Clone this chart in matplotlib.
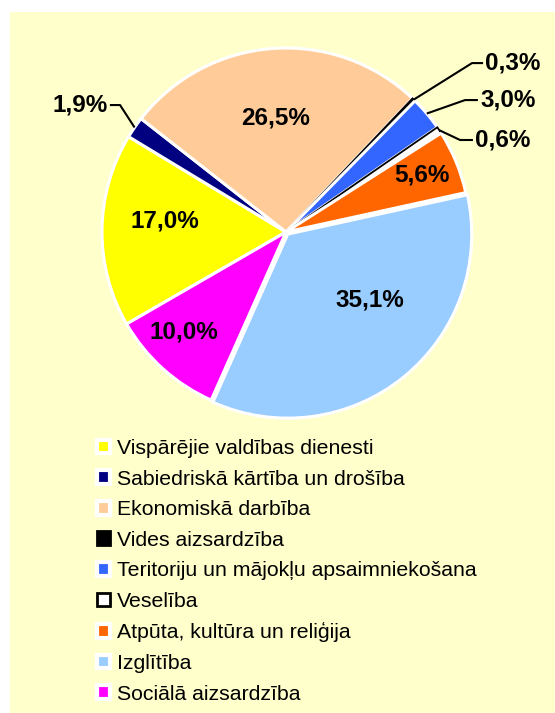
import numpy as np
import matplotlib
matplotlib.use("Agg")
import matplotlib.pyplot as plt
from matplotlib.patches import Patch, Rectangle

plt.rcParams['font.family'] = ['Liberation Sans', 'DejaVu Sans']

categories = [
    'Vispārējie valdības dienesti',
    'Sabiedriskā kārtība un drošība',
    'Ekonomiskā darbība',
    'Vides aizsardzība',
    'Teritoriju un mājokļu apsaimniekošana',
    'Veselība',
    'Atpūta, kultūra un reliģija',
    'Izglītība',
    'Sociālā aizsardzība',
]
shares = [17.0, 1.9, 26.5, 0.3, 3.0, 0.6, 5.6, 35.1, 10.0]
labels = ['17,0%', '1,9%', '26,5%', '0,3%', '3,0%', '0,6%', '5,6%', '35,1%', '10,0%']

colors = ['#FFFF00', '#000080', '#FFCC99', '#000000', '#3366FF',
          '#FFFFFF', '#FF6600', '#99CCFF', '#FF00FF']
edges = ['white', 'white', 'white', 'black', 'white',
         'black', 'white', 'white', 'white']
explode = [0, 0, 0, 0, 0, 0, 0, 0.015, 0]

# label layout: inside labels (radius, angle offset from wedge middle)
inside = {0: (0.66, -4.6), 2: (0.62, 0.8), 6: (0.80, 0.3), 7: (0.57, 12.0), 8: (0.78, -3.6)}
# outside labels (elbow x, elbow y, end of horizontal leader x)
outside = {1: (-0.902, 0.690, -0.957),
           3: (1.011, 0.918, 1.071),
           4: (0.973, 0.717, 1.043),
           5: (0.946, 0.500, 1.016)}

W, H = 555, 713
fig = plt.figure(figsize=(W / 100, H / 100), dpi=100)
fig.patch.set_facecolor('white')
fig.patches.append(Rectangle((10 / W, 0), 1, 1 - 12 / H, transform=fig.transFigure,
                             facecolor='#FFFFCC', edgecolor='none', zorder=-5))

cx, cy, R = 286, 232, 184
lim = 1.25
size = 2 * lim * R
ax = fig.add_axes([(cx - size / 2) / W, (H - cy - size / 2) / H, size / W, size / H])
ax.set_facecolor('none')

wedges, _ = ax.pie(shares, colors=colors, explode=explode, startangle=210,
                   counterclock=False, radius=1.0,
                   wedgeprops=dict(linewidth=2.2, edgecolor='white'))
for w, ec in zip(wedges, edges):
    if ec == 'black':
        w.set_edgecolor('black')
        w.set_linewidth(1.3)

for i, w in enumerate(wedges):
    mid = np.deg2rad((w.theta1 + w.theta2) / 2)
    if i in inside:
        r, off = inside[i]
        a = mid + np.deg2rad(off)
        ox, oy = w.center
        ax.text(ox + r * np.cos(a), oy + r * np.sin(a), labels[i], ha='center', va='center',
                fontsize=17.5, fontweight='bold')
    else:
        ex, ey, endx = outside[i]
        side = 1 if ex > 0 else -1
        px, py = np.cos(mid), np.sin(mid)
        ax.plot([px, ex, endx], [py, ey, ey],
                color='black', lw=1.5, solid_capstyle='butt')
        ax.text(endx + 0.012 * side, ey, labels[i],
                ha='left' if side > 0 else 'right', va='center',
                fontsize=17.5, fontweight='bold')

ax.set_xlim(-lim, lim)
ax.set_ylim(-lim, lim)
ax.set_aspect('equal')
ax.axis('off')

handles = []
for c, ec in zip(colors, edges):
    if ec == 'black':
        handles.append(Patch(facecolor=c, edgecolor='black', linewidth=2.0))
    else:
        handles.append(Patch(facecolor=c, edgecolor='white', linewidth=3.0))

fig.legend(handles, categories, loc='upper left', bbox_to_anchor=(97 / W, 1 - 439 / H),
           frameon=False, fontsize=15.3, handlelength=0.62, handleheight=0.62,
           handletextpad=0.3, labelspacing=0.545, borderpad=0, borderaxespad=0)

fig.savefig('out.png', dpi=100, facecolor=fig.get_facecolor())
